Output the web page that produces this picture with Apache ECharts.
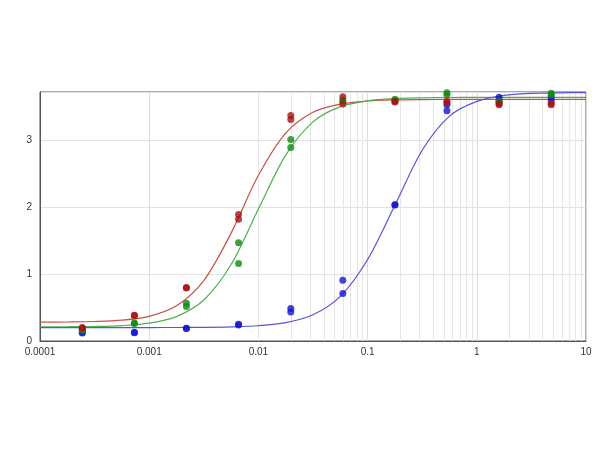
<!DOCTYPE html>
<html><head><meta charset="utf-8">
<script src="https://cdn.jsdelivr.net/npm/echarts@6/dist/echarts.min.js"></script>
<style>html,body{margin:0;padding:0;background:#fff}#c{width:600px;height:450px}</style>
</head><body><div id="c"></div>
<script>
// concentrations of the dilution series
var concX = [0.000244, 0.000732, 0.00219, 0.00658, 0.0198, 0.0593, 0.178, 0.533, 1.6, 4.8];
// replicate readings (two per concentration)
var redA   = [0.20, 0.385, 0.80, 1.89, 3.37, 3.65, 3.58, 3.58, 3.53, 3.53];
var redB   = [0.19, 0.38, 0.79, 1.82, 3.31, 3.54, 3.57, 3.56, 3.55, 3.55];
var greenA = [0.17, 0.27, 0.565, 1.467, 3.01, 3.58, 3.61, 3.71, 3.56, 3.70];
var greenB = [0.16, 0.26, 0.515, 1.157, 2.89, 3.60, 3.59, 3.68, 3.58, 3.68];
var blueA  = [0.12, 0.125, 0.185, 0.25, 0.484, 0.908, 2.036, 3.53, 3.64, 3.64];
var blueB  = [0.13, 0.13, 0.19, 0.24, 0.434, 0.708, 2.03, 3.44, 3.59, 3.59];
// fitted curves
var curveX = [0.0001, 0.0001778, 0.0003162, 0.0005623, 0.001, 0.001778, 0.003162, 0.005623, 0.01, 0.01778, 0.03162, 0.05623, 0.1, 0.1778, 0.3162, 0.5623, 1, 1.778, 3.162, 5.623, 10];
var redCurve   = [0.281, 0.284, 0.291, 0.311, 0.369, 0.525, 0.903, 1.612, 2.475, 3.107, 3.418, 3.540, 3.586, 3.602, 3.607, 3.609, 3.61, 3.61, 3.61, 3.61, 3.61];
var greenCurve = [0.211, 0.213, 0.217, 0.230, 0.266, 0.364, 0.612, 1.143, 1.971, 2.777, 3.273, 3.501, 3.589, 3.622, 3.633, 3.638, 3.64, 3.64, 3.64, 3.64, 3.64];
var blueCurve  = [0.200, 0.200, 0.200, 0.200, 0.201, 0.202, 0.204, 0.211, 0.228, 0.274, 0.391, 0.666, 1.217, 2.028, 2.85, 3.36, 3.58, 3.67, 3.70, 3.708, 3.71];
// minor log grid positions
var minorX = [];
[0.0001, 0.001, 0.01, 0.1, 1].forEach(function (d) {
  [2, 3, 4, 5, 6, 7, 8, 9].forEach(function (m) { minorX.push(+(d * m).toPrecision(3)); });
});

function zip(xs, ys) { return xs.map(function (x, i) { return [x, ys[i]]; }); }
function pts(a, b) { return zip(concX, a).concat(zip(concX, b)); }

var chart = echarts.init(document.getElementById('c'), null, {renderer: 'canvas'});
var font = 'Arial, "Liberation Sans", sans-serif';
chart.setOption({
  animation: false,
  grid: {left: 40, right: 14, top: 92, bottom: 109, show: true, borderColor: '#555', borderWidth: 1, backgroundColor: 'transparent'},
  xAxis: {
    type: 'log', logBase: 10, min: 0.0001, max: 10,
    axisLine: {show: true, lineStyle: {color: '#555'}},
    axisTick: {show: false},
    axisLabel: {color: '#333', fontSize: 10, fontFamily: font, margin: 6,
      formatter: function (v) { return String(+v.toPrecision(3)); }},
    splitLine: {show: true, lineStyle: {color: '#dcdcdc', width: 1}}
  },
  yAxis: {
    type: 'value', min: 0, max: 3.72, interval: 1,
    axisLine: {show: true, lineStyle: {color: '#555'}},
    axisTick: {show: false},
    axisLabel: {color: '#333', fontSize: 10, fontFamily: font, margin: 8, showMaxLabel: false,
      formatter: function (v) { return Math.abs(v - Math.round(v)) < 1e-6 ? String(Math.round(v)) : ''; }},
    splitLine: {show: true, lineStyle: {color: '#e2e2e2', width: 1}}
  },
  series: [
    {type: 'line', data: [], silent: true, z: 0,
      markLine: {silent: true, z: 0, symbol: 'none', label: {show: false}, animation: false,
        lineStyle: {color: '#e6e6e6', width: 1, type: 'solid'},
        emphasis: {disabled: true},
        data: minorX.map(function (x) { return {xAxis: x}; })}},
    {type: 'line', data: zip(curveX, redCurve), smooth: 0.3, showSymbol: false, lineStyle: {color: '#c8504a', width: 1.2}, z: 3},
    {type: 'line', data: zip(curveX, greenCurve), smooth: 0.3, showSymbol: false, lineStyle: {color: '#4fb050', width: 1.2}, z: 3},
    {type: 'line', data: zip(curveX, blueCurve), smooth: 0.3, showSymbol: false, lineStyle: {color: '#5555dd', width: 1.2}, z: 3},
    {type: 'scatter', data: pts(blueA, blueB), symbolSize: 7, itemStyle: {color: '#1414d2'}, z: 4},
    {type: 'scatter', data: pts(greenA, greenB), symbolSize: 7, itemStyle: {color: '#128a12'}, z: 5},
    {type: 'scatter', data: pts(redA, redB), symbolSize: 7, itemStyle: {color: '#a81414'}, z: 6}
  ]
});
</script></body></html>
